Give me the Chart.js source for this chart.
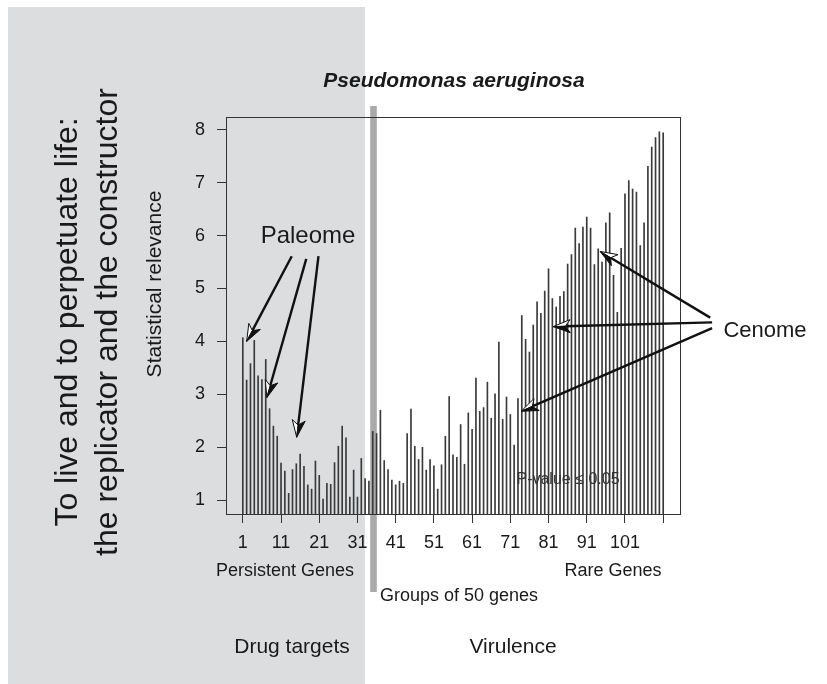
<!DOCTYPE html>
<html>
<head>
<meta charset="utf-8">
<script src="https://cdn.jsdelivr.net/npm/chart.js@4.4.1/dist/chart.umd.min.js"></script>
<style>
  html, body { margin: 0; padding: 0; background: #fff; }
</style>
</head>
<body>
<canvas id="chart" width="827" height="684"></canvas>
<script>
// Statistical relevance per group of 50 genes
const relevance = [
  4.07, 3.27, 3.58, 4.02, 3.35, 3.28, 3.66, 2.73, 2.40, 2.21,
  1.70, 1.55, 1.13, 1.58, 1.69, 1.87, 1.64, 1.29, 1.21, 1.74,
  1.47, 1.02, 1.32, 1.30, 1.71, 2.02, 2.40, 2.18, 1.06, 1.57,
  1.06, 1.79, 1.41, 1.36, 2.30, 2.26, 2.70, 1.75, 1.58, 1.38,
  1.29, 1.36, 1.32, 2.26, 2.72, 2.02, 1.77, 2.00, 1.57, 1.77,
  1.65, 1.21, 1.67, 2.21, 2.96, 1.86, 1.81, 2.43, 1.68, 2.65,
  2.34, 3.31, 2.68, 2.75, 3.23, 2.55, 3.01, 3.99, 2.53, 2.95,
  2.62, 2.04, 2.92, 4.49, 4.04, 3.80, 4.31, 4.75, 4.53, 4.95,
  5.37, 4.81, 4.65, 4.85, 4.94, 5.46, 5.64, 6.14, 5.85, 6.16,
  6.35, 6.14, 5.45, 5.75, 5.50, 6.24, 6.43, 5.25, 4.55, 5.76,
  6.79, 7.04, 6.88, 6.82, 5.81, 6.24, 7.31, 7.67, 7.85, 7.96,
  7.94
];
const groupIds = relevance.map((_, i) => i + 1);

const xTickValues = [1, 11, 21, 31, 41, 51, 61, 71, 81, 91, 101, 111];
const xTickLabels = ['1', '11', '21', '31', '41', '51', '61', '71', '81', '91', '101', ''];
const yTickValues = [1, 2, 3, 4, 5, 6, 7, 8];

// where the grey separator sits, in group units
const dividerGroup = 35.2;

// arrows, in data units: [group, relevance]
const paleomeArrows = [
  { from: [13.8, 5.61], to: [2.0, 4.0] },
  { from: [17.6, 5.56], to: [7.3, 2.94] },
  { from: [20.8, 5.61], to: [15.1, 2.19] }
];
const cenomeArrows = [
  { from: [123.3, 4.45], to: [94.5, 5.70] },
  { from: [123.8, 4.36], to: [82.2, 4.28] },
  { from: [123.8, 4.25], to: [73.8, 2.68] }
];

const FONT = "'Liberation Sans', Arial, Helvetica, sans-serif";
const INK = '#1a1a1a';

function drawArrow(ctx, x1, y1, x2, y2) {
  const dx = x2 - x1, dy = y2 - y1, L = Math.hypot(dx, dy);
  const ux = dx / L, uy = dy / L, nx = -uy, ny = ux;
  const len = 17, hw = 6.5;
  const bx = x2 - ux * len, by = y2 - uy * len;
  const mx = x2 - ux * len * 0.72, my = y2 - uy * len * 0.72;
  ctx.strokeStyle = '#111';
  ctx.lineWidth = 2.4;
  ctx.beginPath(); ctx.moveTo(x1, y1); ctx.lineTo(mx, my); ctx.stroke();
  ctx.lineWidth = 1;
  ctx.beginPath();
  ctx.moveTo(x2, y2); ctx.lineTo(bx + nx * hw, by + ny * hw); ctx.lineTo(mx, my); ctx.closePath();
  ctx.fillStyle = '#fff'; ctx.fill(); ctx.stroke();
  ctx.beginPath();
  ctx.moveTo(x2, y2); ctx.lineTo(bx - nx * hw, by - ny * hw); ctx.lineTo(mx, my); ctx.closePath();
  ctx.fillStyle = '#111'; ctx.fill(); ctx.stroke();
}

function vText(ctx, text, x, y, font) {
  ctx.save();
  ctx.translate(x, y);
  ctx.rotate(-Math.PI / 2);
  ctx.font = font;
  ctx.textAlign = 'center';
  ctx.textBaseline = 'alphabetic';
  ctx.fillText(text, 0, 0);
  ctx.restore();
}

const decor = {
  id: 'decor',
  beforeDraw(chart) {
    const ctx = chart.ctx;
    ctx.save();
    ctx.fillStyle = '#fff';
    ctx.fillRect(0, 0, chart.width, chart.height);
    ctx.fillStyle = '#dcdddf';
    ctx.fillRect(8, 7, 357, chart.height - 7);
    ctx.restore();
  },
  beforeDatasetsDraw(chart) {
    const ctx = chart.ctx;
    const x = chart.scales.x.getPixelForValue(dividerGroup);
    ctx.save();
    ctx.fillStyle = '#a9a9a9';
    ctx.fillRect(x - 3.3, 106, 6.6, 486);
    ctx.restore();
  },
  afterDraw(chart) {
    const ctx = chart.ctx;
    const xs = chart.scales.x, ys = chart.scales.y;
    const a = chart.chartArea;
    ctx.save();

    // plot box
    ctx.strokeStyle = '#333';
    ctx.lineWidth = 1;
    ctx.strokeRect(a.left + 0.5, a.top + 0.5, a.right - a.left, a.bottom - a.top);

    // arrows
    [...paleomeArrows, ...cenomeArrows].forEach(ar => {
      drawArrow(ctx,
        xs.getPixelForValue(ar.from[0]), ys.getPixelForValue(ar.from[1]),
        xs.getPixelForValue(ar.to[0]), ys.getPixelForValue(ar.to[1]));
    });

    ctx.fillStyle = INK;
    ctx.textBaseline = 'alphabetic';

    // title
    ctx.textAlign = 'center';
    ctx.font = 'italic bold 21px ' + FONT;
    ctx.fillText('Pseudomonas aeruginosa', 454, 87);

    // labels
    ctx.font = '24px ' + FONT;
    ctx.fillText('Paleome', 308, 243);
    ctx.font = '22px ' + FONT;
    ctx.fillText('Cenome', 765, 337);

    ctx.font = '16px ' + FONT;
    ctx.fillStyle = '#333';
    ctx.fillText('P-value \u2264 0.05', 568, 484);

    ctx.fillStyle = INK;
    ctx.font = '18px ' + FONT;
    ctx.fillText('Persistent Genes', 285, 576);
    ctx.fillText('Rare Genes', 613, 576);
    ctx.textAlign = 'left';
    ctx.fillText('Groups of 50 genes', 380, 601);

    ctx.textAlign = 'center';
    ctx.font = '21px ' + FONT;
    ctx.fillText('Drug targets', 292, 653);
    ctx.fillText('Virulence', 513, 653);

    // rotated texts
    vText(ctx, 'Statistical relevance', 161, 284, '21px ' + FONT);
    vText(ctx, 'To live and to perpetuate life:', 77, 322, '32px ' + FONT);
    vText(ctx, 'the replicator and the constructor', 117, 322, '32px ' + FONT);

    ctx.restore();
  }
};

new Chart(document.getElementById('chart'), {
  type: 'bar',
  data: {
    datasets: [{
      data: groupIds.map((g, i) => ({ x: g, y: relevance[i] })),
      backgroundColor: '#3a3a3a',
      borderWidth: 0,
      barThickness: 1,
      clip: 0
    }]
  },
  options: {
    responsive: false,
    animation: false,
    layout: { padding: { left: 166, right: 147, top: 117, bottom: 120 } },
    plugins: { legend: { display: false }, tooltip: { enabled: false } },
    scales: {
      x: {
        type: 'linear',
        offset: false,
        min: -3.4,
        max: 115.4,
        afterBuildTicks: scale => { scale.ticks = xTickValues.map(v => ({ value: v })); },
        afterFit: scale => { scale.height = 50; },
        ticks: {
          autoSkip: false,
          maxRotation: 0,
          padding: 9,
          color: INK,
          font: { family: FONT, size: 18 },
          callback: (v) => xTickLabels[xTickValues.indexOf(v)]
        },
        grid: { offset: false, drawOnChartArea: false, drawTicks: true, tickLength: 9, color: '#333' },
        border: { display: true, color: '#333' }
      },
      y: {
        type: 'linear',
        min: 0.74,
        max: 8.24,
        afterBuildTicks: scale => { scale.ticks = yTickValues.map(v => ({ value: v })); },
        afterFit: scale => { scale.width = 60; },
        ticks: {
          padding: 12,
          color: INK,
          font: { family: FONT, size: 18 },
          callback: v => String(v)
        },
        grid: { drawOnChartArea: false, drawTicks: true, tickLength: 9, color: '#333' },
        border: { display: true, color: '#333' }
      }
    }
  },
  plugins: [decor]
});
</script>
</body>
</html>
